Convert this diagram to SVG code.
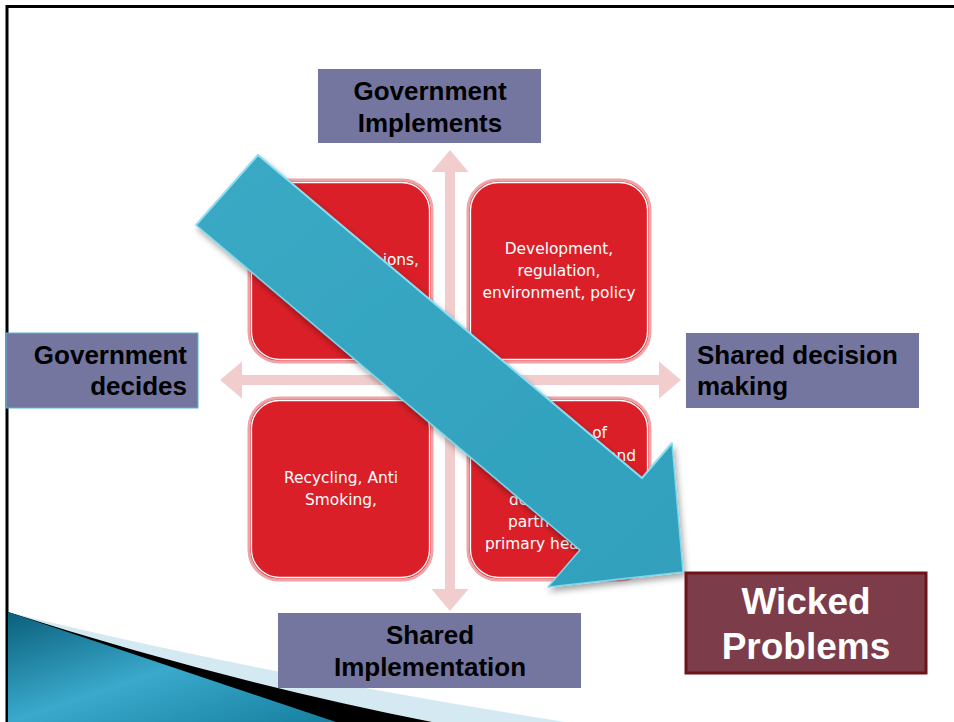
<svg xmlns="http://www.w3.org/2000/svg" width="954" height="722" viewBox="0 0 954 722">
<defs>
<style>
.lbl{fill:#7476a0}
.lt{font-family:"Liberation Sans",Arial,sans-serif;font-weight:bold;font-size:26px;fill:#000}
.rb{fill:#da1f28;stroke:#f0a3a6;stroke-width:3}
.rbi{fill:none;stroke:#ffffff;stroke-width:1.3}
.rt{font-family:"DejaVu Sans","Noto Sans",sans-serif;font-size:15.4px;fill:#ffffff}
.pk{fill:#f2cdcd}
</style>
<linearGradient id="teal" x1="0" y1="0" x2="1" y2="1">
<stop offset="0" stop-color="#0a5f7a"/>
<stop offset="0.5" stop-color="#3aa9cc"/>
<stop offset="1" stop-color="#167f9e"/>
</linearGradient>
<linearGradient id="blu" x1="0" y1="0" x2="1" y2="1">
<stop offset="0" stop-color="#3aa9c4"/>
<stop offset="1" stop-color="#30a0bd"/>
</linearGradient>
<filter id="sh" x="-10%" y="-10%" width="130%" height="130%">
<feDropShadow dx="2" dy="4" stdDeviation="3" flood-color="#000" flood-opacity="0.35"/>
</filter>
</defs>
<rect width="954" height="722" fill="#ffffff"/>
<g id="frame">
<line x1="6" y1="6.5" x2="954" y2="6.5" stroke="#000" stroke-width="3"/>
<line x1="7" y1="5" x2="7" y2="722" stroke="#000" stroke-width="3"/>
</g>
<g id="decor">
<path d="M8,612 Q250,672 565,722 L8,722 Z" fill="#d4e9f1"/>
<path d="M8,612 Q220,680 432,722 L8,722 Z" fill="#000"/>
<polygon points="8,612 336,722 8,722" fill="url(#teal)"/>
</g>
<g id="connectors">
<polygon class="pk" points="450,150 468.5,172 455,172 455,589 468.5,589 450,611 431.5,589 445,589 445,172 431.5,172"/>
<polygon class="pk" points="220,380 242,361.5 242,375 659,375 659,361.5 681,380 659,398.5 659,385 242,385 242,398.5"/>
</g>
<g id="box-tl">
<rect class="rb" x="249" y="180" width="183" height="182" rx="30"/>
<rect class="rbi" x="251.5" y="182.5" width="178" height="177" rx="28"/>
<text class="rt" x="419" y="265" text-anchor="end">ions,</text>
</g>
<g id="box-tr">
<rect class="rb" x="468" y="180" width="182" height="182" rx="30"/>
<rect class="rbi" x="470.5" y="182.5" width="177" height="177" rx="28"/>
<text class="rt" text-anchor="middle"><tspan x="559" y="254">Development,</tspan><tspan x="559" y="276">regulation,</tspan><tspan x="559" y="298">environment, policy</tspan></text>
</g>
<g id="box-bl">
<rect class="rb" x="249" y="398" width="183" height="182" rx="30"/>
<rect class="rbi" x="251.5" y="400.5" width="178" height="177" rx="28"/>
<text class="rt" text-anchor="middle"><tspan x="341" y="483">Recycling, Anti</tspan><tspan x="341" y="505">Smoking,</tspan></text>
</g>
<g id="box-br">
<rect class="rb" x="468" y="398" width="182" height="182" rx="30"/>
<rect class="rbi" x="470.5" y="400.5" width="177" height="177" rx="28"/>
<text class="rt" x="607" y="438" text-anchor="end">of</text>
<text class="rt" x="636" y="461" text-anchor="end">and</text>
<text class="rt" x="509" y="505">de</text>
<text class="rt" x="508" y="527">partn</text>
<text class="rt" x="485" y="549">primary hea</text>
</g>
<g id="gov-implements">
<rect class="lbl" x="318" y="69" width="223" height="74"/>
<text class="lt" text-anchor="middle"><tspan x="430" y="100">Government</tspan><tspan x="430" y="132">Implements</tspan></text>
</g>
<g id="gov-decides">
<rect class="lbl" x="6" y="333" width="192" height="75" stroke="#58b7d0" stroke-width="1"/>
<text class="lt" text-anchor="end"><tspan x="187" y="364">Government</tspan><tspan x="187" y="395">decides</tspan></text>
</g>
<g id="shared-decision">
<rect class="lbl" x="686" y="333" width="233" height="75"/>
<text class="lt"><tspan x="697" y="364">Shared decision</tspan><tspan x="697" y="395">making</tspan></text>
</g>
<g id="shared-implementation">
<rect class="lbl" x="278" y="613" width="303" height="75"/>
<text class="lt" text-anchor="middle"><tspan x="430" y="644">Shared</tspan><tspan x="430" y="676">Implementation</tspan></text>
</g>
<g id="big-arrow">
<polygon points="196,225 258,155 642,478 672,443 683,572 548,587 580,550" fill="url(#blu)" stroke="#7ed6ea" stroke-width="1.5" stroke-linejoin="round" filter="url(#sh)"/>
<polyline points="196,225 258,155 642,478 672,443" fill="none" stroke="#8fe0f2" stroke-width="2" opacity="0.8"/>
</g>
<g id="wicked">
<rect x="686" y="573" width="240" height="100" fill="#7d3c4a" stroke="#6c1418" stroke-width="3"/>
<text font-family="Liberation Sans,Arial,sans-serif" font-weight="bold" font-size="37" fill="#ffffff" text-anchor="middle"><tspan x="806" y="614">Wicked</tspan><tspan x="806" y="659">Problems</tspan></text>
</g>
</svg>
